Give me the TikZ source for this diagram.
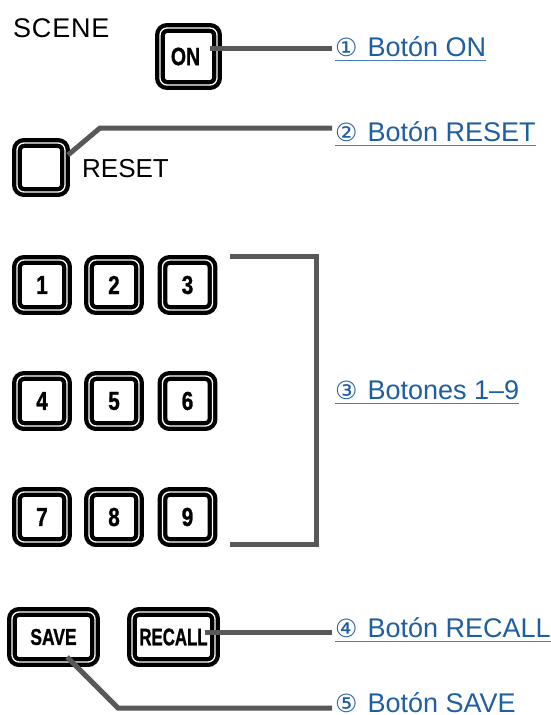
\documentclass[tikz,border=0pt]{standalone}
\usepackage{fontspec}
\setmainfont{Liberation Sans}
\newfontfamily\dejavu{DejaVu Sans}
\newfontfamily\btnfont{Liberation Sans}[FakeBold=1.2]
\usepackage{graphicx}
\definecolor{labblue}{RGB}{31,94,160}
\definecolor{ulblue}{RGB}{70,125,185}
\definecolor{conngray}{RGB}{88,88,88}
\newcommand\btxt[3]{\scalebox{#1}[1]{\fontsize{#2}{#2}\selectfont\btnfont\bfseries #3}}
\newcommand\circd[1]{{\dejavu\fontsize{25}{25}\selectfont #1}\hspace{10pt}}
\tikzset{
  btn/.style={draw=black, line width=4.3pt, double=white, double distance=1.3pt,
    rounded corners=7pt, inner sep=0pt},
  lab/.style={anchor=base west, inner sep=0pt, text=labblue, font=\fontsize{27}{27}\selectfont},
  plain/.style={anchor=base west, inner sep=0pt, font=\fontsize{26}{26}\selectfont},
  uline/.style={draw=ulblue, line width=1.5pt},
  conn/.style={draw=conngray, line width=5pt}
}
\begin{document}
\begin{tikzpicture}[x=1pt,y=-1pt]
\fill[white] (0,0) rectangle (550,715);
\useasboundingbox (0,0) rectangle (550,715);

% texts
\node[plain] (scene) at (13,37) {\addfontfeature{LetterSpace=3}\fontsize{27}{27}\selectfont SCENE};
\node[plain] (resettxt) at (82,177) {RESET};

% buttons
\node[btn, minimum width=57pt, minimum height=57pt] (on) at (188.5,56.5) {\btxt{0.78}{25}{ON}\kern6pt};
\node[btn, minimum width=48pt, minimum height=49pt] (reset) at (41,167.5) {};

\node[btn, minimum width=50pt, minimum height=50pt] (b1) at (42,285) {\btxt{0.8}{26}{1}};
\node[btn, minimum width=50pt, minimum height=50pt] (b2) at (114,285) {\btxt{0.8}{26}{2}};
\node[btn, minimum width=50pt, minimum height=50pt] (b3) at (187.5,285) {\btxt{0.8}{26}{3}};
\node[btn, minimum width=50pt, minimum height=50pt] (b4) at (42,401) {\btxt{0.8}{26}{4}};
\node[btn, minimum width=50pt, minimum height=50pt] (b5) at (114,401) {\btxt{0.8}{26}{5}};
\node[btn, minimum width=50pt, minimum height=50pt] (b6) at (187.5,401) {\btxt{0.8}{26}{6}};
\node[btn, minimum width=50pt, minimum height=50pt] (b7) at (42,517) {\btxt{0.8}{26}{7}};
\node[btn, minimum width=50pt, minimum height=50pt] (b8) at (114,517) {\btxt{0.8}{26}{8}};
\node[btn, minimum width=50pt, minimum height=50pt] (b9) at (187.5,517) {\btxt{0.8}{26}{9}};

\node[btn, minimum width=83pt, minimum height=50pt] (save) at (53.5,637) {\btxt{0.76}{23}{SAVE}};
\node[btn, minimum width=83pt, minimum height=50pt] (recall) at (173.5,637) {\btxt{0.7}{24}{RECALL}};

% labels
\node[lab] (l1) at (335,56) {\circd{①}Botón ON};
\node[lab] (l2) at (335,141) {\circd{②}Botón RESET};
\node[lab] (l3) at (335,399) {\circd{③}Botones 1–9};
\node[lab] (l4) at (335,637) {\circd{④}Botón RECALL};
\node[lab] (l5) at (335,712) {\circd{⑤}Botón SAVE};
\foreach \l in {l1,l2,l3,l4,l5}{
  \draw[uline] ([yshift=-4.5pt]\l.base west) -- ([yshift=-4.5pt]\l.base east);
}

% connectors
\coordinate (onA) at (210,48);
\draw[conn] (onA) -- ([xshift=-3pt]onA -| l1.west);

\coordinate (rsA) at (68,155);
\coordinate (rsB) at (100,128);
\draw[conn] (rsA) -- (rsB) -- ([xshift=-3pt]rsB -| l2.west);

\coordinate (brTL) at (230,256);
\coordinate (brTR) at (316.5,256);
\coordinate (brBR) at (316.5,544);
\coordinate (brBL) at (230,544);
\draw[conn] (brTL) -- (brTR) -- (brBR) -- (brBL);

\coordinate (rcA) at (205,632);
\draw[conn] (rcA) -- ([xshift=-3pt]rcA -| l4.west);

\coordinate (svA) at (67,657);
\coordinate (svB) at (118,708);
\draw[conn] (svA) -- (svB) -- ([xshift=-3pt]svB -| l5.west);
\end{tikzpicture}
\end{document}
